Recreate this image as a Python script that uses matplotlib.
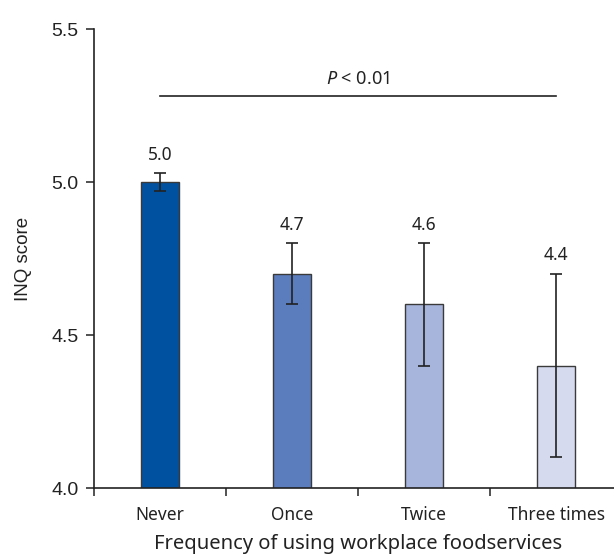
import matplotlib
matplotlib.use("Agg")
import matplotlib.pyplot as plt
import numpy as np

categories = ["Never", "Once", "Twice", "Three times"]
means = [5.0, 4.7, 4.6, 4.4]
errors = [0.03, 0.1, 0.2, 0.3]
value_labels = ["5.0", "4.7", "4.6", "4.4"]
bar_colors = ["#0052a0", "#5b7dbe", "#a7b4dc", "#d5daee"]
y_ticks = [4.0, 4.5, 5.0, 5.5]
p_line_y = 5.28
p_text = r"$\mathit{P}$ < 0.01"

plt.rcParams["mathtext.fontset"] = "custom"
plt.rcParams["mathtext.rm"] = "Noto Sans"
plt.rcParams["mathtext.it"] = "Noto Sans:italic"

INK = "#222222"

fig = plt.figure(figsize=(6.14, 5.56), dpi=100)
ax = fig.add_axes([0.1531, 0.1223, 0.86, 0.8255])

x = np.arange(len(categories))
ax.bar(x, means, width=0.29, color=bar_colors, edgecolor="#3a3a3a", linewidth=1.0, zorder=2)
ax.errorbar(x, means, yerr=errors, fmt="none", ecolor=INK, elinewidth=1.2,
            capsize=4, capthick=1.2, zorder=3)

for xi, m, e, lab in zip(x, means, errors, value_labels):
    ax.annotate(lab, (xi, m + e), xytext=(0, 9.6), textcoords="offset points",
                ha="center", va="baseline", fontsize=12.5, family="Noto Sans", color=INK)

# significance bar across all groups
ax.plot([x[0], x[-1]], [p_line_y, p_line_y], color=INK, linewidth=1.2)
ax.annotate(p_text, ((x[0] + x[-1]) / 2, p_line_y), xytext=(0, 9), textcoords="offset points",
            ha="center", va="baseline", fontsize=13, family="Noto Sans", color=INK)

ax.set_xlim(-0.5, len(categories) - 0.5)
ax.set_ylim(4.0, 5.5)

ax.set_xticks(np.arange(len(categories) + 1) - 0.5)
ax.set_xticklabels([])
ax.set_xticks(x, minor=True)
ax.set_xticklabels(categories, minor=True, fontsize=12.5, family="Noto Sans", color=INK)
ax.tick_params(axis="x", which="major", length=5.5, width=1.1, color=INK)
ax.tick_params(axis="x", which="minor", length=0, pad=13)

ax.set_yticks(y_ticks)
ax.set_yticklabels([f"{t:.1f}" for t in y_ticks], fontsize=14, family="Liberation Sans", color=INK)
ax.tick_params(axis="y", length=6, width=1.1, color=INK, pad=5)

ax.set_ylabel("INQ score", fontsize=13.5, family="Liberation Sans", color=INK)
ax.yaxis.set_label_coords(-0.117, 0.5)
ax.set_xlabel("Frequency of using workplace foodservices", fontsize=14.5, family="Noto Sans",
              color=INK, labelpad=7.5)

for side in ("top", "right"):
    ax.spines[side].set_visible(False)
for side in ("left", "bottom"):
    ax.spines[side].set_color(INK)
    ax.spines[side].set_linewidth(1.2)

fig.savefig("out.png", dpi=100)
